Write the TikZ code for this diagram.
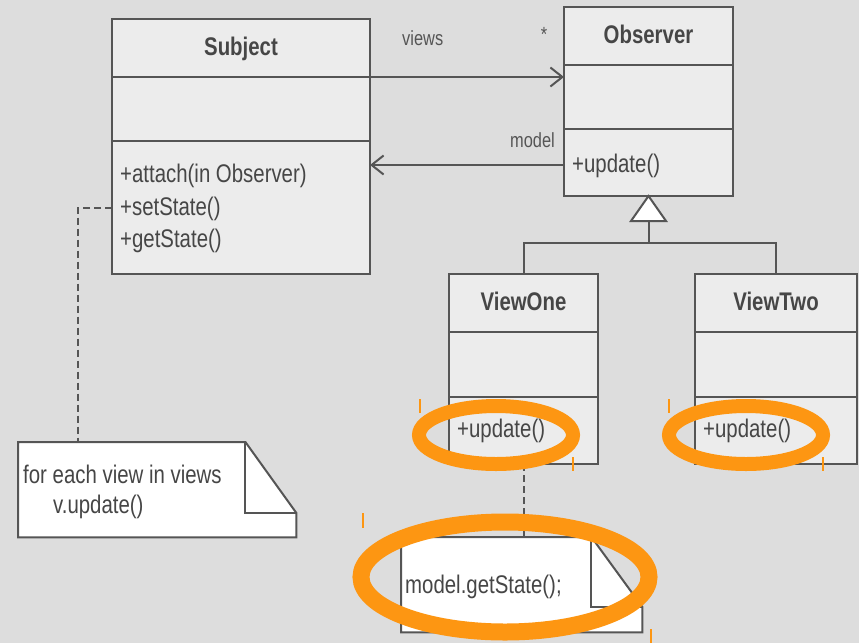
\documentclass[tikz,border=0pt]{standalone}
\usepackage{fontspec}
\setmainfont{Liberation Sans}[FakeStretch=0.8]
\usetikzlibrary{arrows.meta,calc}
\definecolor{bg}{RGB}{221,221,221}
\definecolor{cellfill}{RGB}{236,236,236}
\definecolor{ink}{RGB}{70,70,70}
\definecolor{edge}{RGB}{85,85,85}
\definecolor{hilite}{RGB}{253,150,18}

\begin{document}
\begin{tikzpicture}[x=1pt,y=-1pt,
  cell/.style={draw=edge, fill=cellfill, line width=2pt, inner sep=0pt,
    outer sep=0pt, anchor=north west, minimum width=#1},
  title/.style={inner sep=0pt, text=ink,
    font=\fontsize{25.5}{31}\selectfont\bfseries},
  optext/.style={anchor=base west, inner sep=0pt, text=ink,
    font=\fontsize{25.5}{31}\selectfont},
  rolelabel/.style={inner sep=0pt, text=edge, font=\fontsize{20.5}{24}\selectfont},
  assoc/.style={draw=edge, line width=2pt,
    -{Straight Barb[length=12pt,width=19pt,line width=2pt]}},
  link/.style={draw=edge, line width=2pt},
  notelink/.style={draw=edge, line width=2pt, dash pattern=on 7pt off 4pt},
  notebody/.style={draw=edge, fill=white, line width=2pt, line join=miter},
  ring/.style={draw=hilite},
  handle/.style={draw=hilite, line width=1.3pt}
]
% canvas
\fill[bg] (0,0) rectangle (859,643);
\useasboundingbox (0,0) rectangle (859,643);

% Subject class
\node[cell=258pt, minimum height=58pt] (subjhead) at (112,19) {};
\node[cell=258pt, minimum height=64pt] (subjattr) at (112,77) {};
\node[cell=258pt, minimum height=133pt] (subjops) at (112,141) {};
\node[title, anchor=base] (subjname) at ($(subjhead.center)+(0,7)$) {Subject};
\node[optext] (sop1) at (120,182) {+attach(in Observer)};
\node[optext] (sop2) at (120,215) {+setState()};
\node[optext] (sop3) at (120,247) {+getState()};

% Observer class
\node[cell=169pt, minimum height=58pt] (obshead) at (564,7) {};
\node[cell=169pt, minimum height=64pt] (obsattr) at (564,65) {};
\node[cell=169pt, minimum height=67pt] (obsops) at (564,129) {};
\node[title, anchor=base] (obsname) at ($(obshead.center)+(0,7)$) {Observer};
\node[optext] (oop1) at (572,172) {+update()};

% ViewOne class
\node[cell=149pt, minimum height=58pt] (v1head) at (449,274) {};
\node[cell=149pt, minimum height=65pt] (v1attr) at (449,332) {};
\node[cell=149pt, minimum height=67pt] (v1ops) at (449,397) {};
\node[title, anchor=base] (v1name) at ($(v1head.center)+(0,7)$) {ViewOne};
\node[optext] (v1op) at (457,437) {+update()};

% ViewTwo class
\node[cell=162pt, minimum height=58pt] (v2head) at (695,274) {};
\node[cell=162pt, minimum height=65pt] (v2attr) at (695,332) {};
\node[cell=162pt, minimum height=67pt] (v2ops) at (695,397) {};
\node[title, anchor=base] (v2name) at ($(v2head.center)+(0,7)$) {ViewTwo};
\node[optext] (v2op) at (703,437) {+update()};

% associations
\draw[assoc] (subjattr.north east) -- (subjattr.north east -| obsattr.west);
\draw[assoc] ([yshift=-2.5pt]obsops.west) -- ([yshift=-2.5pt]obsops.west -| subjops.east);
\node[rolelabel, anchor=base west] (lviews) at (402,45) {views};
\node[rolelabel] (lmany) at (544,34) {*};
\node[rolelabel, anchor=base west] (lmodel) at (510,147) {model};

% generalization
\coordinate (trib) at ($(obsops.south)+(0,25)$);
\coordinate (gen) at ($(obsops.south)+(0,47)$);
\draw[link] (v1head.north) |- (gen) -| (v2head.north);
\draw[link] (trib) -- (gen);
\draw[link, fill=white, line join=miter] (obsops.south) -- ++(-17.5,25) -- ++(35,0) -- cycle;

% note attached to Subject
\node[minimum width=278pt, minimum height=95pt, inner sep=0pt, anchor=north west]
  (note1) at (18,442) {};
\draw[notebody] (note1.north west) -- ([xshift=-51pt]note1.north east)
  -- ([yshift=-71pt]note1.north east) -- (note1.south east)
  -- (note1.south west) -- cycle;
\draw[notebody, fill=none] ([xshift=-51pt]note1.north east) -- ++(0,71)
  -- ([yshift=-71pt]note1.north east);
\node[optext] (n1a) at (23,483) {for each view in views};
\node[optext] (n1b) at (53,513) {v.update()};
\coordinate (n1pin) at ($(note1.north west)+(60,0)$);
\draw[notelink] (subjops.west) -| (n1pin);

% note attached to ViewOne
\node[minimum width=241pt, minimum height=95pt, inner sep=0pt, anchor=north west]
  (note2) at (401,537) {};
\draw[notebody] (note2.north west) -- ([xshift=-51pt]note2.north east)
  -- ([yshift=-70pt]note2.north east) -- (note2.south east)
  -- (note2.south west) -- cycle;
\draw[notebody, fill=none] ([xshift=-51pt]note2.north east) -- ++(0,70)
  -- ([yshift=-70pt]note2.north east);
\node[optext] (n2a) at (405,593) {model.getState();};
\draw[notelink] (v1ops.south) -- (v1ops.south |- note2.north);

% orange highlight rings
\draw[ring, line width=14pt] (496,435) ellipse [x radius=77pt, y radius=29pt];
\draw[ring, line width=14pt] (746,435) ellipse [x radius=77pt, y radius=29pt];
\draw[ring, line width=17pt] (505,577) ellipse [x radius=144pt, y radius=55pt];

% selection handles around the rings
\draw[handle] (420,399) -- (420,413);
\draw[handle] (573,457) -- (573,471);
\draw[handle] (669,399) -- (669,413);
\draw[handle] (823,457) -- (823,471);
\draw[handle] (363,513) -- (363,528);
\draw[handle] (651,629) -- (651,643);
\end{tikzpicture}
\end{document}
